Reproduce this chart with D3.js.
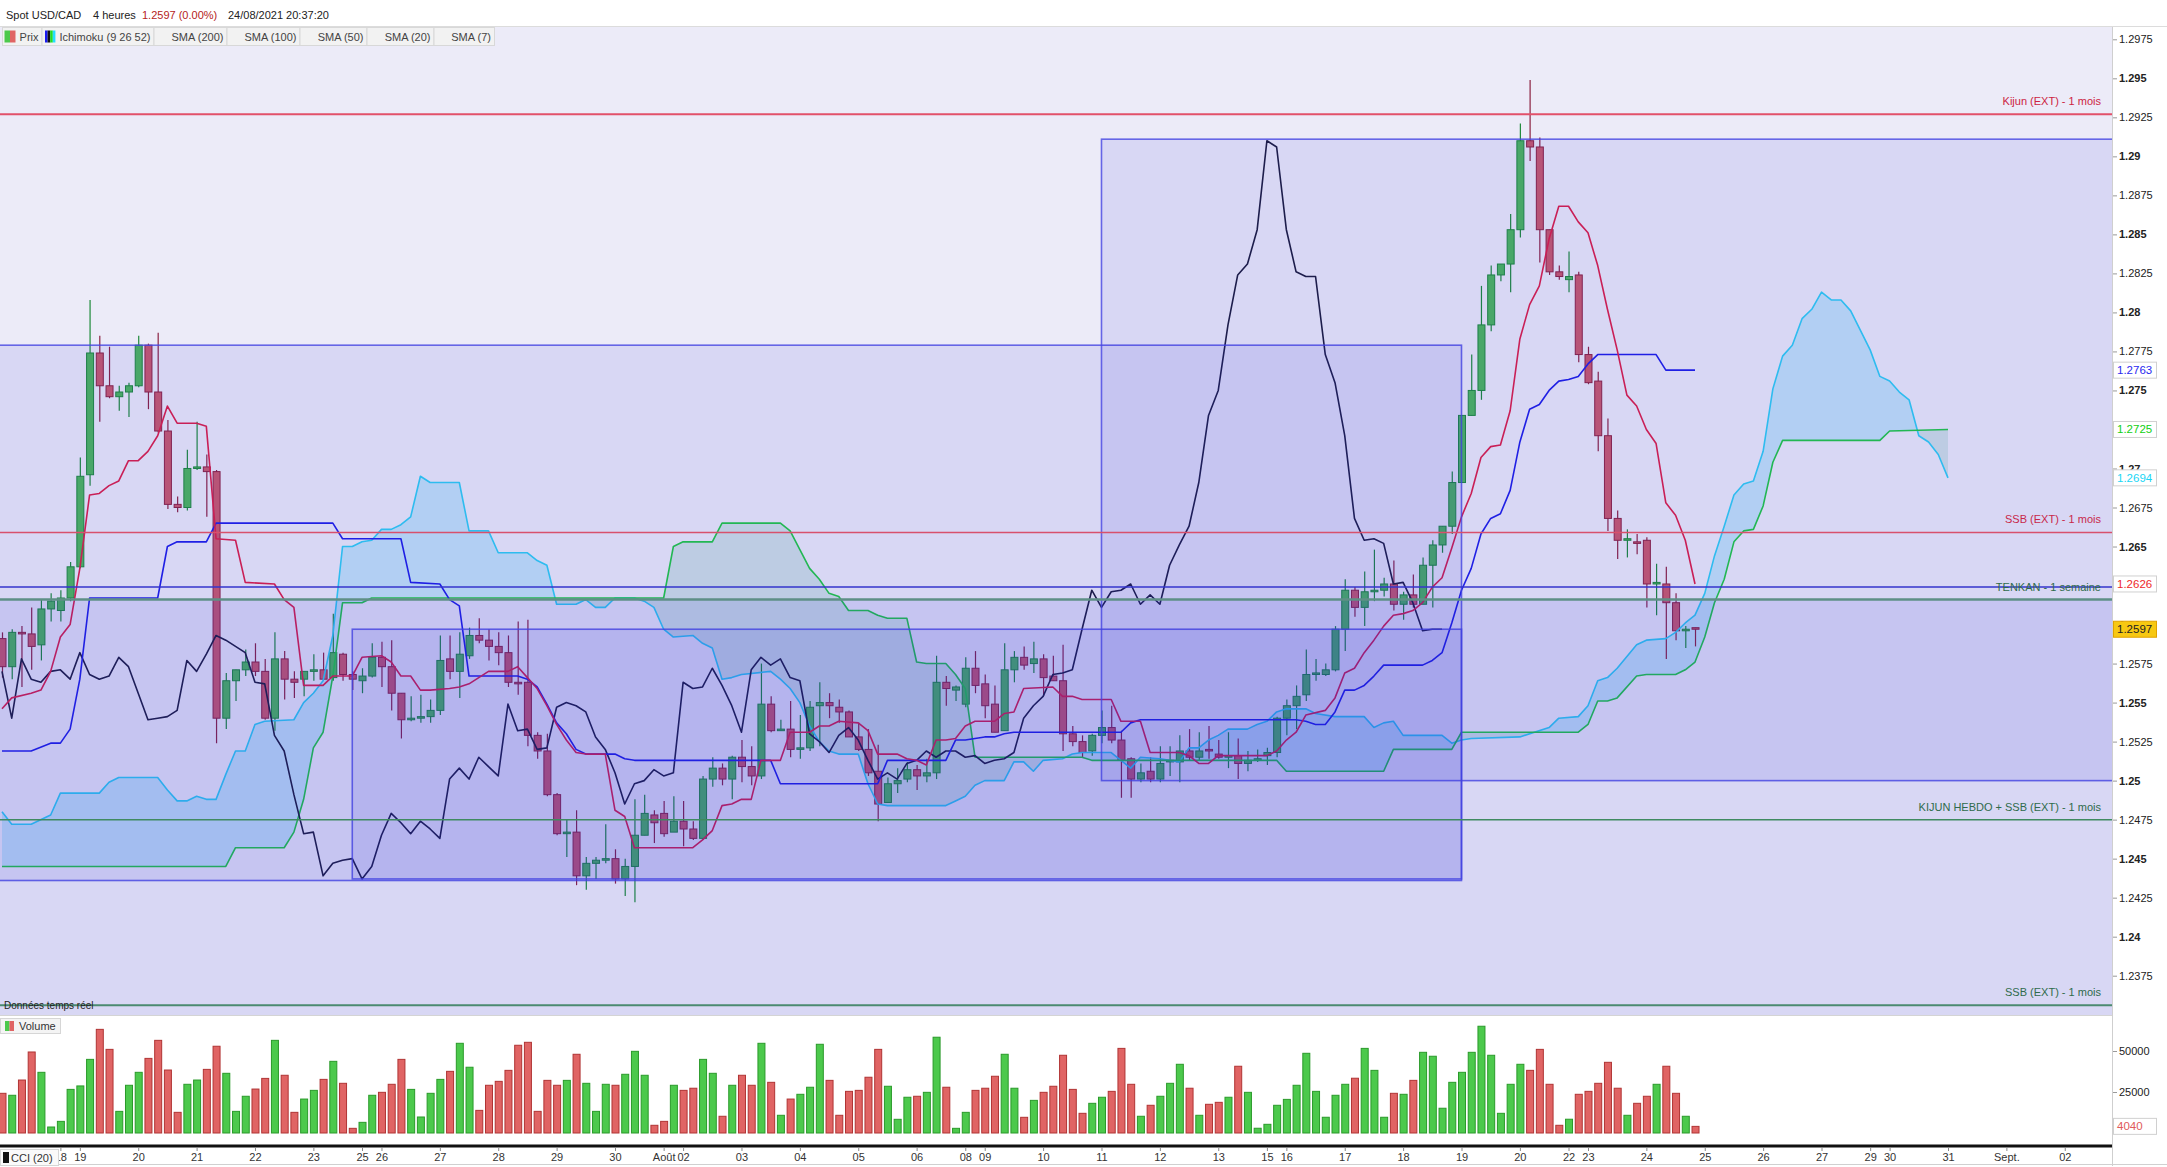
<!DOCTYPE html>
<html>
<head>
<meta charset="utf-8">
<script src="https://cdn.jsdelivr.net/npm/d3@7"></script>
<style>
html, body { margin: 0; padding: 0; background: #fff; overflow: hidden; }
svg { display: block; font-family: "Liberation Sans", Arial, sans-serif; }
</style>
</head>
<body>
<script>
'use strict';

// ---- data (4h candles, slot 0 = 15/07 20h ... slot 174 = 24/08 20h) ----
const opens = [1.2591,1.2573,1.2595,1.2594,1.2587,1.2610,1.2609,1.2617,1.2637,1.2696,
1.2774,1.2753,1.2746,1.2749,1.2753,1.2779,1.2749,1.2724,1.2677,1.2675,
1.2700,1.2701,1.2698,1.2540,1.2564,1.2571,1.2576,1.2570,1.2540,1.2578,
1.2565,1.2565,1.2570,1.2571,1.2566,1.2581,1.2568,1.2564,1.2567,1.2579,
1.2573,1.2556,1.2539,1.2540,1.2541,1.2545,1.2578,1.2570,1.2580,1.2593,
1.2590,1.2586,1.2582,1.2563,1.2563,1.2529,1.2519,1.2491,1.2466,1.2467,
1.2439,1.2447,1.2449,1.2450,1.2437,1.2445,1.2465,1.2478,1.2479,1.2467,
1.2474,1.2469,1.2463,1.2501,1.2508,1.2501,1.2515,1.2509,1.2503,1.2549,
1.2532,1.2533,1.2520,1.2521,1.2548,1.2550,1.2547,1.2544,1.2528,1.2520,
1.2506,1.2486,1.2498,1.2501,1.2507,1.2503,1.2505,1.2563,1.2558,1.2549,
1.2572,1.2562,1.2549,1.2532,1.2571,1.2579,1.2575,1.2578,1.2567,1.2564,
1.2530,1.2525,1.2519,1.2529,1.2534,1.2526,1.2514,1.2501,1.2506,1.2501,
1.2512,1.2512,1.2519,1.2515,1.2520,1.2517,1.2515,1.2516,1.2511,1.2513,
1.2516,1.2518,1.2540,1.2548,1.2555,1.2568,1.2568,1.2571,1.2597,1.2622,
1.2611,1.2621,1.2622,1.2626,1.2613,1.2619,1.2613,1.2638,1.2651,1.2663,
1.2691,1.2734,1.2750,1.2792,1.2824,1.2831,1.2853,1.2910,1.2906,1.2853,
1.2826,1.2821,1.2824,1.2773,1.2756,1.2721,1.2668,1.2654,1.2653,1.2654,
1.2626,1.2626,1.2614,1.2596,1.2598];

const highs = [1.2595,1.2597,1.2599,1.2611,1.2616,1.2620,1.2622,1.2640,1.2707,1.2808,
1.2785,1.2778,1.2753,1.2755,1.2785,1.2780,1.2787,1.2731,1.2682,1.2712,
1.2730,1.2709,1.2699,1.2569,1.2571,1.2584,1.2588,1.2578,1.2595,1.2583,
1.2570,1.2570,1.2581,1.2582,1.2607,1.2582,1.2570,1.2572,1.2588,1.2589,
1.2590,1.2556,1.2554,1.2555,1.2552,1.2593,1.2593,1.2595,1.2598,1.2604,
1.2597,1.2595,1.2593,1.2602,1.2603,1.2531,1.2530,1.2492,1.2475,1.2481,
1.2451,1.2451,1.2472,1.2456,1.2450,1.2488,1.2491,1.2481,1.2487,1.2490,
1.2487,1.2474,1.2503,1.2515,1.2511,1.2516,1.2526,1.2522,1.2575,1.2554,
1.2539,1.2551,1.2542,1.2551,1.2563,1.2556,1.2552,1.2545,1.2537,1.2533,
1.2523,1.2502,1.2508,1.2512,1.2510,1.2514,1.2580,1.2567,1.2561,1.2579,
1.2583,1.2568,1.2561,1.2588,1.2583,1.2586,1.2589,1.2581,1.2580,1.2587,
1.2535,1.2529,1.2530,1.2545,1.2548,1.2532,1.2515,1.2511,1.2515,1.2522,
1.2522,1.2529,1.2533,1.2531,1.2535,1.2526,1.2531,1.2527,1.2519,1.2520,
1.2521,1.2541,1.2552,1.2561,1.2584,1.2578,1.2575,1.2599,1.2629,1.2624,
1.2634,1.2648,1.2630,1.2641,1.2621,1.2632,1.2643,1.2654,1.2663,1.2698,
1.2734,1.2773,1.2817,1.2830,1.2831,1.2863,1.2921,1.2949,1.2912,1.2853,
1.2830,1.2839,1.2826,1.2778,1.2762,1.2732,1.2673,1.2661,1.2658,1.2656,
1.2639,1.2637,1.2620,1.2599,1.2598];

const lows = [1.2566,1.2565,1.2560,1.2571,1.2577,1.2602,1.2602,1.2615,1.2636,1.2689,
1.2730,1.2745,1.2737,1.2733,1.2752,1.2738,1.2723,1.2674,1.2672,1.2673,
1.2699,1.2669,1.2524,1.2533,1.2551,1.2567,1.2567,1.2539,1.2532,1.2552,
1.2553,1.2554,1.2564,1.2565,1.2564,1.2564,1.2558,1.2556,1.2566,1.2560,
1.2545,1.2527,1.2538,1.2537,1.2537,1.2542,1.2565,1.2553,1.2578,1.2588,
1.2577,1.2574,1.2560,1.2555,1.2522,1.2514,1.2490,1.2465,1.2451,1.2433,
1.2430,1.2437,1.2447,1.2434,1.2426,1.2422,1.2465,1.2460,1.2464,1.2467,
1.2458,1.2462,1.2462,1.2496,1.2497,1.2488,1.2499,1.2497,1.2501,1.2531,
1.2532,1.2515,1.2514,1.2519,1.2522,1.2540,1.2537,1.2528,1.2519,1.2503,
1.2474,1.2486,1.2492,1.2499,1.2494,1.2499,1.2501,1.2548,1.2551,1.2547,
1.2556,1.2540,1.2531,1.2532,1.2563,1.2571,1.2569,1.2554,1.2564,1.2519,
1.2522,1.2515,1.2516,1.2524,1.2524,1.2489,1.2489,1.2499,1.2499,1.2499,
1.2503,1.2499,1.2513,1.2513,1.2514,1.2514,1.2508,1.2501,1.2506,1.2512,
1.2510,1.2515,1.2529,1.2533,1.2551,1.2564,1.2567,1.2570,1.2583,1.2605,
1.2599,1.2615,1.2618,1.2609,1.2603,1.2611,1.2613,1.2611,1.2646,1.2658,
1.2691,1.2734,1.2744,1.2788,1.2820,1.2813,1.2848,1.2897,1.2832,1.2824,
1.2821,1.2813,1.2768,1.2754,1.2711,1.2660,1.2642,1.2643,1.2645,1.2611,
1.2606,1.2578,1.2590,1.2585,1.2586];

const closes = [1.2573,1.2595,1.2594,1.2586,1.2610,1.2615,1.2617,1.2637,1.2695,1.2774,
1.2753,1.2746,1.2749,1.2753,1.2779,1.2749,1.2724,1.2677,1.2675,1.2700,
1.2701,1.2698,1.2540,1.2564,1.2571,1.2576,1.2570,1.2540,1.2578,1.2565,
1.2563,1.2570,1.2571,1.2565,1.2582,1.2568,1.2565,1.2567,1.2579,1.2573,
1.2556,1.2539,1.2540,1.2541,1.2545,1.2577,1.2570,1.2581,1.2593,1.2590,
1.2586,1.2582,1.2563,1.2562,1.2529,1.2519,1.2491,1.2466,1.2467,1.2439,
1.2447,1.2449,1.2450,1.2437,1.2445,1.2465,1.2479,1.2473,1.2466,1.2474,
1.2469,1.2463,1.2501,1.2508,1.2501,1.2515,1.2509,1.2503,1.2549,1.2532,
1.2533,1.2520,1.2521,1.2547,1.2550,1.2548,1.2544,1.2528,1.2520,1.2505,
1.2485,1.2498,1.2500,1.2507,1.2503,1.2505,1.2563,1.2559,1.2560,1.2572,
1.2561,1.2548,1.2531,1.2571,1.2579,1.2574,1.2578,1.2566,1.2564,1.2530,
1.2525,1.2518,1.2529,1.2534,1.2526,1.2513,1.2501,1.2505,1.2501,1.2511,
1.2513,1.2519,1.2515,1.2519,1.2519,1.2515,1.2516,1.2511,1.2513,1.2514,
1.2518,1.2540,1.2548,1.2554,1.2568,1.2569,1.2571,1.2597,1.2622,1.2611,
1.2621,1.2622,1.2626,1.2613,1.2619,1.2613,1.2638,1.2651,1.2663,1.2691,
1.2734,1.2750,1.2792,1.2824,1.2831,1.2853,1.2910,1.2906,1.2853,1.2826,
1.2823,1.2823,1.2773,1.2755,1.2721,1.2668,1.2654,1.2655,1.2652,1.2626,
1.2627,1.2614,1.2596,1.2597,1.2597];

const volumes = [24200,23000,32300,49400,37000,3660,7100,26600,28700,44900,
63200,51000,13200,29100,37000,45500,56500,38400,12600,29700,
32300,38800,52900,36400,13200,22400,26800,33300,56500,35200,
12600,20700,26000,32700,43700,30300,2850,6500,23000,24800,
29700,44900,26600,9760,24200,32700,37600,54700,40100,13800,
29100,31500,38200,53500,55300,13200,32100,29100,32100,48000,
30300,13200,29700,29100,35800,49800,35200,4700,7100,29100,
26000,27300,44900,36400,10200,29100,35200,29100,54700,30900,
10800,20700,23600,27900,54100,32100,10800,25400,26000,34000,
51000,28500,8350,21800,22400,24800,58400,27900,2850,12600,
26000,27300,34600,48000,27300,9570,19900,24800,28500,47400,
26600,12000,18100,21800,25400,51600,29700,10200,16900,22400,
30300,41900,27300,10800,17500,18700,21800,40700,24800,2900,
5300,16900,20500,29100,48600,25400,9600,23000,29700,33400,
51600,38200,9600,24200,23600,32100,49200,46800,15100,30900,
37000,49200,65100,47400,12000,29700,41900,38200,51000,29700,
4700,8400,23600,25400,30300,43100,27300,10800,18100,22400,
29700,40700,24200,10200,4040];

// Ichimoku (9 26 52) as [slot, price] vertices
const tenkan = [[0,1.2546],[1,1.2553],[3,1.2556],[4,1.2558],[5,1.2570],[6,1.2592],[7,1.2600],[8,1.2636],
[9,1.2683],[10,1.2684],[11,1.2689],[12,1.2692],[13,1.2705],[14,1.2705],[15,1.2711],[16,1.2721],[17,1.2740],
[18,1.2729],[20,1.2729],[21,1.2727],[22,1.2655],[24,1.2654],[25,1.2627],[28,1.2626],[29,1.2616],[30,1.2611],
[31,1.2561],[33,1.2561],[34,1.2567],[36,1.2567],[37,1.2579],[39,1.2580],[40,1.2576],[41,1.2567],[42,1.2567],
[43,1.2558],[44,1.2558],[46,1.2559],[47,1.2560],[48,1.2562],[49,1.2566],[50,1.2570],[52,1.2570],[53,1.2573],
[54,1.2566],[55,1.2559],[56,1.2548],[57,1.2536],[58,1.2526],[59,1.2518],[60,1.2517],[62,1.2517],[63,1.2481],
[64,1.2477],[65,1.2457],[71,1.2457],[72,1.2462],[73,1.2468],[74,1.2484],[75,1.2485],[76,1.2488],[77,1.2488],
[78,1.2513],[80,1.2513],[81,1.2531],[83,1.2531],[84,1.2535],[85,1.2535],[86,1.2538],[88,1.2537],[89,1.2532],
[90,1.2517],[92,1.2517],[93,1.2514],[94,1.2513],[95,1.2510],[96,1.2526],[97,1.2526],[98,1.2527],[99,1.2535],
[100,1.2538],[102,1.2538],[103,1.2543],[104,1.2544],[105,1.2559],[108,1.2560],[109,1.2554],[110,1.2554],
[111,1.2552],[114,1.2552],[115,1.2538],[117,1.2538],[118,1.2518],[121,1.2518],[122,1.2516],[123,1.2511],
[124,1.2511],[125,1.2516],[130,1.2516],[131,1.2519],[132,1.2526],[133,1.2531],[134,1.2542],[136,1.2545],
[137,1.2553],[138,1.2569],[139,1.2572],[140,1.2582],[141,1.2590],[142,1.2599],[143,1.2606],[144,1.2607],
[145,1.2609],[146,1.2614],[147,1.2624],[148,1.2630],[149,1.2649],[150,1.2669],[151,1.2684],[152,1.2707],
[153,1.2714],[154,1.2715],[155,1.2737],[156,1.2783],[157,1.2805],[158,1.2817],[159,1.2847],[160,1.2868],
[161,1.2868],[162,1.2858],[163,1.2851],[164,1.2830],[165,1.2802],[166,1.2776],[167,1.2747],[168,1.2740],
[169,1.2725],[170,1.2716],[171,1.2678],[172,1.2670],[173,1.2654],[174,1.2626]];

const kijun = [[0,1.2519],[3,1.2519],[5,1.2524],[6,1.2524],[7,1.2533],[8,1.2565],[9,1.2617],[16,1.2617],
[17,1.2650],[18,1.2653],[21,1.2653],[22,1.2665],[34,1.2665],[35,1.2655],[41,1.2655],[42,1.2627],[45,1.2626],
[46,1.2616],[47,1.2612],[48,1.2567],[53,1.2567],[54,1.2565],[55,1.2560],[56,1.2549],[57,1.2537],[58,1.2530],
[59,1.2520],[60,1.2517],[63,1.2517],[64,1.2514],[65,1.2513],[79,1.2513],[80,1.2498],[90,1.2498],[91,1.2513],
[97,1.2513],[98,1.2526],[99,1.2526],[101,1.2528],[102,1.2528],[103,1.2530],[104,1.2531],[115,1.2531],
[116,1.2537],[117,1.2539],[133,1.2539],[134,1.2538],[135,1.2536],[136,1.2536],[137,1.2544],[138,1.2558],
[139,1.2558],[140,1.2561],[141,1.2567],[142,1.2574],[146,1.2574],[147,1.2577],[148,1.2582],[149,1.2601],
[150,1.2622],[151,1.2636],[152,1.2658],[153,1.2668],[154,1.2671],[155,1.2686],[156,1.2717],[157,1.2738],
[158,1.2741],[159,1.2750],[160,1.2756],[161,1.2757],[162,1.2759],[163,1.2767],[164,1.2773],[170,1.2773],
[171,1.2763],[174,1.2763]];

const senkouA = [[0,1.2445],[23,1.2445],[24,1.2457],[29,1.2457],[30,1.2467],[31,1.2488],[32,1.2521],
[33,1.2531],[34,1.2567],[35,1.2614],[37,1.2614],[38,1.2617],[68,1.2617],[69,1.2650],[70,1.2653],[73,1.2653],
[74,1.2665],[80,1.2665],[81,1.2660],[82,1.2648],[83,1.2636],[84,1.2629],[85,1.2620],[86,1.2618],[87,1.2609],
[89,1.2609],[90,1.2606],[91,1.2604],[93,1.2604],[94,1.2576],[95,1.2575],[97,1.2575],[98,1.2568],[99,1.2559],
[100,1.2515],[111,1.2515],[112,1.2513],[131,1.2513],[132,1.2506],[142,1.2506],[143,1.2520],[149,1.2520],
[150,1.2531],[162,1.2531],[163,1.2536],[164,1.2551],[165,1.2551],[166,1.2553],[168,1.2567],[169,1.2568],
[172,1.2568],[173,1.2571],[174,1.2576],[175,1.2592],[176,1.2614],[177,1.2629],[178,1.2653],[179,1.2660],
[180,1.2661],[181,1.2676],[182,1.2704],[183,1.2718],[193,1.2718],[194,1.2724],[200,1.2725]];

const senkouB = [[0,1.2480],[1,1.2472],[3,1.2472],[5,1.2478],[6,1.2492],[10,1.2492],[11,1.2499],[12,1.2502],
[16,1.2502],[17,1.2494],[18,1.2487],[19,1.2487],[20,1.2490],[21,1.2488],[22,1.2488],[23,1.2504],[24,1.2519],
[25,1.2519],[26,1.2536],[27,1.2538],[30,1.2539],[31,1.2550],[32,1.2556],[33,1.2564],[34,1.2593],[35,1.2650],
[36,1.2650],[37,1.2653],[38,1.2654],[39,1.2661],[40,1.2661],[41,1.2664],[42,1.2669],[43,1.2695],[44,1.2691],
[47,1.2691],[48,1.2660],[50,1.2660],[51,1.2646],[54,1.2646],[55,1.2641],[56,1.2638],[57,1.2613],[59,1.2613],
[60,1.2616],[61,1.2611],[62,1.2611],[63,1.2617],[65,1.2617],[66,1.2615],[67,1.2611],[68,1.2597],[69,1.2592],
[71,1.2593],[72,1.2588],[73,1.2585],[74,1.2565],[75,1.2566],[76,1.2568],[79,1.2570],[80,1.2565],[81,1.2559],
[82,1.2550],[83,1.2535],[84,1.2525],[85,1.2519],[86,1.2517],[88,1.2517],[89,1.2498],[90,1.2485],[91,1.2484],
[97,1.2484],[98,1.2487],[99,1.2490],[100,1.2497],[101,1.2500],[103,1.2500],[104,1.2512],[105,1.2512],
[106,1.2506],[107,1.2513],[109,1.2514],[110,1.2517],[111,1.2518],[114,1.2518],[115,1.2513],[116,1.2508],
[117,1.2515],[119,1.2514],[121,1.2512],[122,1.2521],[123,1.2521],[124,1.2526],[125,1.2529],[126,1.2533],
[128,1.2533],[129,1.2536],[130,1.2538],[131,1.2544],[132,1.2546],[134,1.2546],[135,1.2543],[137,1.2541],
[140,1.2541],[141,1.2534],[142,1.2537],[143,1.2538],[144,1.2529],[148,1.2529],[149,1.2524],[150,1.2526],
[151,1.2527],[156,1.2528],[159,1.2534],[160,1.2540],[162,1.2541],[163,1.2548],[164,1.2564],[165,1.2566],
[166,1.2572],[168,1.2587],[169,1.2590],[171,1.2591],[172,1.2595],[173,1.2601],[174,1.2606],[175,1.2620],
[176,1.2644],[177,1.2663],[178,1.2683],[179,1.2690],[180,1.2692],[181,1.2711],[182,1.2751],[183,1.2772],
[184,1.2779],[185,1.2796],[186,1.2802],[187,1.2813],[188,1.2808],[189,1.2808],[190,1.2801],[192,1.2776],
[193,1.2759],[194,1.2756],[195,1.2749],[196,1.2744],[197,1.2721],[198,1.2717],[199,1.2709],[200,1.2694]];

const chikouShift = 26;

// drawn zones
const zoneStart  = [-2, 36, 113, -2];
const zoneEnd    = [150, 150, 230, 230];
const zoneTop    = [1.2779, 1.2597, 1.2911, 1.2616];
const zoneBottom = [1.2436, 1.2437, 1.2500, 1.2300];

// horizontal levels
const levelPrices = [1.2927, 1.2659, 1.2624, 1.2616, 1.2475, 1.2356];
const levelLabels = ['Kijun (EXT) - 1 mois', 'SSB (EXT) - 1 mois', '', 'TENKAN - 1 semaine',
                     'KIJUN HEBDO + SSB (EXT) - 1 mois', 'SSB (EXT) - 1 mois'];

// axes
const dayTickLabels = ['18','19','20','21','22','23','25','26','27','28','29','30','Août','02','03','04',
  '05','06','08','09','10','11','12','13','15','16','17','18','19','20','22','23','24','25','26','27',
  '29','30','31','Sept.','02'];
const dayTickSlots = [6,8,14,20,26,32,37,39,45,51,57,63,68,70,76,82,88,94,99,101,107,113,119,125,130,132,
  138,144,150,156,161,163,169,175,181,187,192,194,200,206,212];
const priceTicks = [1.2975,1.295,1.2925,1.29,1.2875,1.285,1.2825,1.28,1.2775,1.275,1.2725,1.27,1.2675,
  1.265,1.2625,1.26,1.2575,1.255,1.2525,1.25,1.2475,1.245,1.2425,1.24,1.2375];
const volumeTicks = [0, 25000, 50000];

// ---- layout ----
const W = 2167, H = 1167;
const plotR = 2112, plotT = 27, plotB = 1015;
const volTop = 1016, volBase = 1133, axisY = 1146;

const levelStyle = [
  { stroke: '#e2506a', w: 2,   text: '#cc2442' },
  { stroke: '#d8506c', w: 1.5, text: '#c8284a' },
  { stroke: '#3434cc', w: 1.5, text: '#2f6b4b' },
  { stroke: '#5e8f86', w: 2.5, text: '#2f6b4b' },
  { stroke: '#3f8a60', w: 1.5, text: '#2f6b4b' },
  { stroke: '#4b8a70', w: 2,   text: '#2f6b4b' }
];

const upFill = '#4db65c', upLine = '#1e8a3a';
const dnFill = '#c95a6c', dnLine = '#8c2242';

const x  = d3.scaleLinear().domain([0, 217]).range([2, 2 + 9.73 * 217]);
const y  = d3.scaleLinear().domain([1.2975, 1.2375]).range([39.3, 975.7]);
const yv = d3.scaleLinear().domain([0, 50000]).range([volBase, 1051]);

const svg = d3.select('body').append('svg')
  .attr('width', W).attr('height', H)
  .attr('viewBox', '0 0 ' + W + ' ' + H);

svg.append('rect').attr('width', W).attr('height', H).attr('fill', '#fff');

const defs = svg.append('defs');
defs.append('clipPath').attr('id', 'plotClip')
  .append('rect').attr('x', 0).attr('y', plotT).attr('width', plotR).attr('height', plotB - plotT);

const areaAbove = d3.area().x(d => x(d[0])).y0(0).y1(d => y(d[1]));
const areaBelow = d3.area().x(d => x(d[0])).y0(H).y1(d => y(d[1]));
defs.append('clipPath').attr('id', 'aboveA').append('path').attr('d', areaAbove(senkouA));
defs.append('clipPath').attr('id', 'belowA').append('path').attr('d', areaBelow(senkouA));
defs.append('clipPath').attr('id', 'aboveB').append('path').attr('d', areaAbove(senkouB));
defs.append('clipPath').attr('id', 'belowB').append('path').attr('d', areaBelow(senkouB));

// ---- price panel ----
const plot = svg.append('g').attr('clip-path', 'url(#plotClip)');
plot.append('rect').attr('x', 0).attr('y', plotT).attr('width', plotR).attr('height', plotB - plotT)
  .attr('fill', '#ecebf8');

// cloud: blue where SSB is on top, grey-green where SSA is on top
plot.append('g').attr('clip-path', 'url(#aboveA)')
  .append('g').attr('clip-path', 'url(#belowB)')
  .append('rect').attr('x', 0).attr('y', 0).attr('width', plotR).attr('height', H)
  .attr('fill', 'rgb(125,216,245)').attr('fill-opacity', 0.38);
plot.append('g').attr('clip-path', 'url(#aboveB)')
  .append('g').attr('clip-path', 'url(#belowA)')
  .append('rect').attr('x', 0).attr('y', 0).attr('width', plotR).attr('height', H)
  .attr('fill', 'rgb(160,205,196)').attr('fill-opacity', 0.38);

// candles
const candles = d3.range(closes.length);
const cg = plot.append('g');
cg.selectAll('line.wick').data(candles).join('line')
  .attr('x1', i => x(i) + 0.5).attr('x2', i => x(i) + 0.5)
  .attr('y1', i => y(highs[i])).attr('y2', i => y(lows[i]))
  .attr('stroke', i => closes[i] >= opens[i] ? upLine : dnLine)
  .attr('stroke-width', 1.2);
cg.selectAll('rect.body').data(candles).join('rect')
  .attr('x', i => x(i) - 3)
  .attr('width', 7)
  .attr('y', i => y(Math.max(opens[i], closes[i])))
  .attr('height', i => Math.max(1.5, y(Math.min(opens[i], closes[i])) - y(Math.max(opens[i], closes[i]))))
  .attr('fill', i => closes[i] >= opens[i] ? upFill : dnFill)
  .attr('stroke', i => closes[i] >= opens[i] ? upLine : dnLine)
  .attr('stroke-width', 1);

// ichimoku lines
const line = d3.line().x(d => x(d[0])).y(d => y(d[1]));
const chikou = closes.slice(chikouShift).map((c, i) => [i, c]);
const ichi = [
  [senkouB, '#2fcdf2'],
  [senkouA, '#22c845'],
  [chikou,  '#1c1c3c'],
  [kijun,   '#1f1fe6'],
  [tenkan,  '#dc1f48']
];
ichi.forEach(([pts, col]) => {
  plot.append('path').attr('d', line(pts))
    .attr('fill', 'none').attr('stroke', col).attr('stroke-width', 1.6)
    .attr('stroke-linejoin', 'round');
});

// zones drawn over the price
zoneTop.forEach((top, i) => {
  const r = plot.append('rect')
    .attr('x', x(zoneStart[i])).attr('width', x(zoneEnd[i]) - x(zoneStart[i]))
    .attr('y', y(top)).attr('height', y(zoneBottom[i]) - y(top))
    .attr('fill', 'rgb(40,40,220)').attr('fill-opacity', 0.1);
  if (i < 3) r.attr('stroke', '#4646e2').attr('stroke-opacity', 0.8).attr('stroke-width', 1.6);
});

// horizontal levels
levelPrices.forEach((p, i) => {
  const st = levelStyle[i];
  plot.append('line')
    .attr('x1', 0).attr('x2', plotR).attr('y1', y(p)).attr('y2', y(p))
    .attr('stroke', st.stroke).attr('stroke-width', st.w);
  if (levelLabels[i]) {
    plot.append('text')
      .attr('x', 2101).attr('y', y(p) - 9)
      .attr('text-anchor', 'end').attr('font-size', 11).attr('fill', st.text)
      .text(levelLabels[i]);
  }
});

plot.append('text').attr('x', 4).attr('y', 1009).attr('font-size', 10).attr('fill', '#222')
  .text('Données temps réel');

// ---- volume panel ----
const vg = svg.append('g');
vg.selectAll('rect').data(candles).join('rect')
  .attr('x', i => x(i) - 3).attr('width', 7)
  .attr('y', i => yv(volumes[i])).attr('height', i => volBase - yv(volumes[i]))
  .attr('fill', i => closes[i] >= opens[i] ? '#4cc94c' : '#e06464')
  .attr('stroke', i => closes[i] >= opens[i] ? '#2a9a2a' : '#b03434')
  .attr('stroke-width', 1);

svg.append('line').attr('x1', 0).attr('x2', W).attr('y1', plotB + 0.5).attr('y2', plotB + 0.5)
  .attr('stroke', '#d4d4d4');

const volLegend = svg.append('g');
volLegend.append('rect').attr('x', 0.5).attr('y', 1018.5).attr('width', 60).attr('height', 15)
  .attr('fill', '#f4f4f4').attr('stroke', '#d6d6d6');
volLegend.append('rect').attr('x', 5).attr('y', 1021).attr('width', 4.5).attr('height', 10).attr('fill', '#4cc94c');
volLegend.append('rect').attr('x', 9.5).attr('y', 1021).attr('width', 4.5).attr('height', 10).attr('fill', '#e06464');
volLegend.append('text').attr('x', 19).attr('y', 1030).attr('font-size', 11).attr('fill', '#333').text('Volume');

// ---- right axis column ----
svg.append('rect').attr('x', plotR + 0.5).attr('y', 26).attr('width', W - plotR).attr('height', axisY - 26)
  .attr('fill', '#fff');
svg.append('line').attr('x1', plotR + 0.5).attr('x2', plotR + 0.5).attr('y1', 26).attr('y2', axisY + 20)
  .attr('stroke', '#cfcfcf');

const yAxis = svg.append('g').attr('transform', 'translate(' + (plotR + 1) + ',0)')
  .call(d3.axisRight(y).tickValues(priceTicks).tickSize(4).tickPadding(2).tickFormat(d => String(d)));
yAxis.select('.domain').remove();
yAxis.selectAll('.tick line').attr('stroke', '#999');
yAxis.selectAll('.tick text')
  .attr('font-size', 11).attr('fill', '#222').attr('font-family', '"Liberation Sans", Arial, sans-serif')
  .attr('font-weight', d => Math.round(d * 10000) % 50 === 0 ? 'bold' : 'normal');

const vAxis = svg.append('g').attr('transform', 'translate(' + (plotR + 1) + ',0)')
  .call(d3.axisRight(yv).tickValues(volumeTicks).tickSize(4).tickPadding(2).tickFormat(d => d ? String(d) : ''));
vAxis.select('.domain').remove();
vAxis.selectAll('.tick line').attr('stroke', '#999');
vAxis.selectAll('.tick text').attr('font-size', 11).attr('fill', '#222')
  .attr('font-family', '"Liberation Sans", Arial, sans-serif');

// last-value tags
const lastOf = pts => pts[pts.length - 1][1];
const tags = [
  [y(lastOf(kijun)),   lastOf(kijun).toFixed(4),   '#2a2af0', '#fff', '#d0d0d0'],
  [y(lastOf(senkouA)), lastOf(senkouA).toFixed(4), '#12d012', '#fff', '#d0d0d0'],
  [y(lastOf(senkouB)), lastOf(senkouB).toFixed(4), '#1ad6f5', '#fff', '#d0d0d0'],
  [y(lastOf(tenkan)),  lastOf(tenkan).toFixed(4),  '#ee2a2a', '#fff', '#d0d0d0'],
  [y(closes[closes.length - 1]), closes[closes.length - 1].toFixed(4), '#222', '#f7c812', '#e0a200'],
  [yv(volumes[volumes.length - 1]), String(volumes[volumes.length - 1]), '#e05a5a', '#fff', '#d0d0d0']
];
tags.forEach(([ty, label, col, bg, border]) => {
  svg.append('rect').attr('x', plotR + 1.5).attr('y', ty - 8).attr('width', 43).attr('height', 16)
    .attr('fill', bg).attr('stroke', border);
  svg.append('text').attr('x', plotR + 5).attr('y', ty + 4).attr('font-size', 11.5).attr('fill', col)
    .text(label);
});

// ---- time axis ----
svg.append('rect').attr('x', 0).attr('y', axisY - 1.5).attr('width', plotR).attr('height', 3).attr('fill', '#111');
const xAxis = svg.append('g').attr('transform', 'translate(0,' + (axisY + 1) + ')')
  .call(d3.axisBottom(x).tickValues(dayTickSlots).tickSize(4).tickPadding(2)
    .tickFormat((d, i) => dayTickLabels[i]));
xAxis.select('.domain').remove();
xAxis.selectAll('.tick line').attr('stroke', '#888');
xAxis.selectAll('.tick text').attr('font-size', 11).attr('fill', '#333')
  .attr('font-family', '"Liberation Sans", Arial, sans-serif');
svg.append('line').attr('x1', 0).attr('x2', W).attr('y1', 1164.5).attr('y2', 1164.5).attr('stroke', '#d0d0d0');

const cci = svg.append('g');
cci.append('rect').attr('x', 0.5).attr('y', 1149.5).attr('width', 58).attr('height', 16)
  .attr('fill', '#fafafa').attr('stroke', '#d6d6d6');
cci.append('rect').attr('x', 3).attr('y', 1152).attr('width', 6).attr('height', 11).attr('fill', '#111');
cci.append('text').attr('x', 11).attr('y', 1162).attr('font-size', 11).attr('fill', '#333').text('CCI (20)');

// ---- header + legend ----
svg.append('rect').attr('x', 0).attr('y', 0).attr('width', W).attr('height', 26).attr('fill', '#fff');
svg.append('line').attr('x1', 0).attr('x2', W).attr('y1', 26.5).attr('y2', 26.5).attr('stroke', '#dcdcdc');
const head = svg.append('g').attr('font-size', 11);
head.append('text').attr('x', 6).attr('y', 19).attr('fill', '#222').text('Spot USD/CAD');
head.append('text').attr('x', 93).attr('y', 19).attr('fill', '#222').text('4 heures');
head.append('text').attr('x', 142).attr('y', 19).attr('fill', '#b51c1c').text('1.2597 (0.00%)');
head.append('text').attr('x', 228).attr('y', 19).attr('fill', '#222').text('24/08/2021 20:37:20');

const legendItems = ['Prix', 'Ichimoku (9 26 52)', 'SMA (200)', 'SMA (100)', 'SMA (50)', 'SMA (20)', 'SMA (7)'];
const legendEdges = [2, 41.5, 153.5, 226.5, 299.5, 366.5, 433.5, 494];
const leg = svg.append('g');
legendItems.forEach((name, i) => {
  leg.append('rect').attr('x', legendEdges[i] + 0.5).attr('y', 27.5)
    .attr('width', legendEdges[i + 1] - legendEdges[i]).attr('height', 18)
    .attr('fill', '#f2f2f2').attr('stroke', '#d8d8d8');
  leg.append('text').attr('x', legendEdges[i + 1] - 3).attr('y', 41).attr('text-anchor', 'end')
    .attr('font-size', 11).attr('fill', '#444').text(name);
});
leg.append('rect').attr('x', 4.5).attr('y', 30.5).attr('width', 5.5).attr('height', 12).attr('fill', '#4cc94c');
leg.append('rect').attr('x', 10).attr('y', 30.5).attr('width', 5.5).attr('height', 12).attr('fill', '#e06464');
['#1a1af0', '#111', '#22dd22', '#22ddff'].forEach((c, i) => {
  leg.append('rect').attr('x', 45 + i * 2.6).attr('y', 30.5).attr('width', 2.6).attr('height', 12).attr('fill', c);
});
</script>
</body>
</html>
